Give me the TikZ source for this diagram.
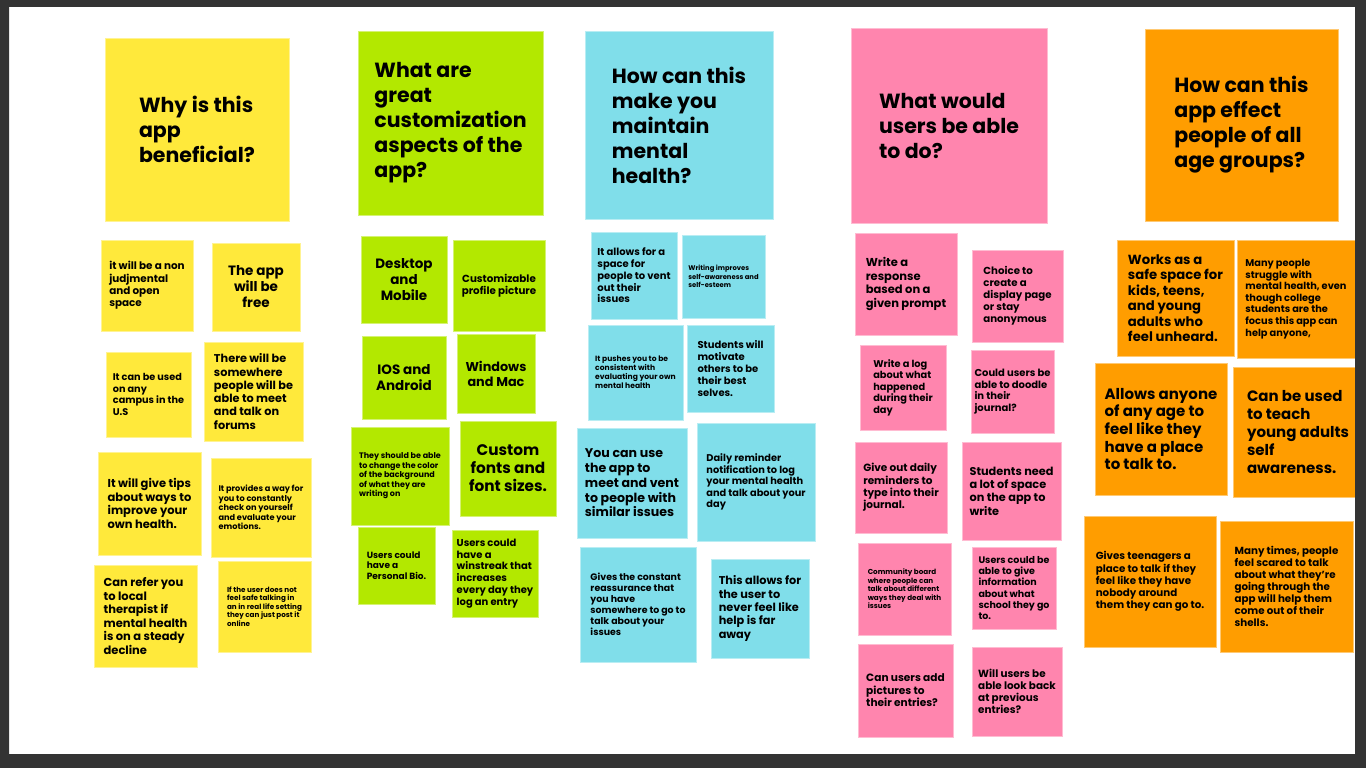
\documentclass[tikz,border=0pt]{standalone}
\usepackage{fontspec}
\setmainfont{Poppins}
\usepackage{xcolor}
\usetikzlibrary{positioning}

\definecolor{ylw}{HTML}{FFE93B}
\definecolor{grn}{HTML}{B3E800}
\definecolor{cyn}{HTML}{80DEEA}
\definecolor{pnk}{HTML}{FF85AE}
\definecolor{org}{HTML}{FF9D00}
\definecolor{frm}{HTML}{333333}

\begin{document}
\begin{tikzpicture}[x=1pt,y=-1pt,
    note/.style={rectangle,fill=#1,draw=#1!55!white,line width=0.7pt,inner sep=0pt,align=left,text=black},
    sz/.style 2 args={minimum width=#1pt,minimum height=#2pt},
    fs/.style 2 args={font=\fontsize{#1}{#2}\selectfont\bfseries},
    title/.style={fs={20.5}{25}}]
    \useasboundingbox (0,0) rectangle (1366,768);
    \fill[white] (0,0) rectangle (1366,768);

    % question headers
    \node[note=ylw,sz={184}{183},title] (q1) at (197,129.5) {Why is this\\app\\beneficial?};
    \node[note=grn,sz={185}{184},title] (q2) at (450.5,123) {What are\\great\\customization\\aspects of the\\app?};
    \node[note=cyn,sz={188}{188},title] (q3) at (679,125) {How can this\\make you\\maintain\\mental\\health?};
    \node[note=pnk,sz={196}{195},title] (q4) at (949,125.5) {What would\\users be able\\to do?};
    \node[note=org,sz={193}{192},title] (q5) at (1241.5,125) {How can this\\app effect\\people of all\\age groups?};

    % why is this app beneficial
    \node[note=ylw,sz={92}{91},fs={10.4}{12.3}] (y1) at (147,285.5) {it will be a non\\judjmental\\and open\\space};
    \node[note=ylw,sz={88}{88},fs={13.5}{16},align=center] (y2) at (256,287) {The app\\will be\\free};
    \node[note=ylw,sz={85}{85},fs={9.7}{11.5}] (y3) at (148.5,394.5) {It can be used\\on any\\campus in the\\U.S};
    \node[note=ylw,sz={99}{99},fs={11.3}{13.3}] (y4) at (253.5,391.5) {There will be\\somewhere\\people will be\\able to meet\\and talk on\\forums};
    \node[note=ylw,sz={103}{103},fs={11.5}{13.5}] (y5) at (149.5,503.5) {It will give tips\\about ways to\\improve your\\own health.};
    \node[note=ylw,sz={100}{99},fs={8.2}{9.6}] (y6) at (261,507.5) {It provides a way for\\you to constantly\\check on yourself\\and evaluate your\\emotions.};
    \node[note=ylw,sz={103}{102},fs={11.5}{13.5}] (y7) at (145.5,616) {Can refer you\\to local\\therapist if\\mental health\\is on a steady\\decline};
    \node[note=ylw,sz={93}{91},fs={7.2}{8.5}] (y8) at (264.5,606.5) {If the user does not\\feel safe talking in\\an in real life setting\\they can just post it\\online};

    % customization aspects
    \node[note=grn,sz={86}{87},fs={13.5}{16},align=center] (g1) at (404,279.5) {Desktop\\and\\Mobile};
    \node[note=grn,sz={92}{91},fs={10.3}{12.5},align=center] (g2) at (499,285.5) {Customizable\\profile picture};
    \node[note=grn,sz={84}{83},fs={13.5}{16},align=center] (g3) at (404,377.5) {IOS and\\Android};
    \node[note=grn,sz={78}{79},fs={12.8}{15},align=center] (g4) at (496,373.5) {Windows\\and Mac};
    \node[note=grn,sz={98}{98},fs={8}{9.5}] (g5) at (400,476) {They should be able\\to change the color\\of the background\\of what they are\\writing on};
    \node[note=grn,sz={96}{95},fs={15.3}{18},align=center] (g6) at (508,468.5) {Custom\\fonts and\\font sizes.};
    \node[note=grn,sz={77}{77},fs={9}{10.5}] (g7) at (396.5,565.5) {Users could\\have a\\Personal Bio.};
    \node[note=grn,sz={86}{87},fs={10}{11.7}] (g8) at (495,573.5) {Users could\\have a\\winstreak that\\increases\\every day they\\log an entry};

    % maintain mental health
    \node[note=cyn,sz={86}{87},fs={10}{11.8}] (c1) at (634,275.5) {It allows for a\\space for\\people to vent\\out their\\issues};
    \node[note=cyn,sz={83}{83},fs={6.8}{8.4}] (c2) at (723.5,276.5) {Writing improves\\self-awareness and\\self-esteem};
    \node[note=cyn,sz={95}{95},fs={7.6}{9}] (c3) at (635.5,372.5) {It pushes you to be\\consistent with\\evaluating your own\\mental health};
    \node[note=cyn,sz={87}{87},fs={10}{11.8}] (c4) at (730.5,368.5) {Students will\\motivate\\others to be\\their best\\selves.};
    \node[note=cyn,sz={110}{110},fs={12.6}{14.8}] (c5) at (632,483) {You can use\\the app to\\meet and vent\\to people with\\similar issues};
    \node[note=cyn,sz={118}{118},fs={9.8}{11.5}] (c6) at (756,482) {Daily reminder\\notification to log\\your mental health\\and talk about your\\day};
    \node[note=cyn,sz={116}{115},fs={9.4}{11}] (c7) at (638,604.5) {Gives the constant\\reassurance that\\you have\\somewhere to go to\\talk about your\\issues};
    \node[note=cyn,sz={98}{99},fs={11.3}{13.3}] (c8) at (760,608.5) {This allows for\\the user to\\never feel like\\help is far\\away};

    % what users can do
    \node[note=pnk,sz={102}{102},fs={11.5}{13.5}] (p1) at (906,284) {Write a\\response\\based on a\\given prompt};
    \node[note=pnk,sz={91}{92},fs={10.2}{12}] (p2) at (1017.5,296) {Choice to\\create a\\display page\\or stay\\anonymous};
    \node[note=pnk,sz={86}{85},fs={9.8}{11.5}] (p3) at (903,387.5) {Write a log\\about what\\happened\\during their\\day};
    \node[note=pnk,sz={83}{83},fs={10}{11.7}] (p4) at (1012.5,391.5) {Could users be\\able to doodle\\in their\\journal?};
    \node[note=pnk,sz={92}{91},fs={10.5}{12.3}] (p5) at (901,487.5) {Give out daily\\reminders to\\type into their\\journal.};
    \node[note=pnk,sz={99}{98},fs={11.3}{13.3}] (p6) at (1011.5,491) {Students need\\a lot of space\\on the app to\\write};
    \node[note=pnk,sz={93}{92},fs={7.2}{8.5}] (p7) at (904.5,589) {Community board\\where people can\\talk about different\\ways they deal with\\issues};
    \node[note=pnk,sz={84}{82},fs={9.5}{11.2}] (p8) at (1014,588) {Users could be\\able to give\\information\\about what\\school they go\\to.};
    \node[note=pnk,sz={95}{93},fs={10.6}{12.5}] (p9) at (905.5,690.5) {Can users add\\pictures to\\their entries?};
    \node[note=pnk,sz={90}{89},fs={10.4}{12.2}] (p10) at (1017,691.5) {Will users be\\able look back\\at previous\\entries?};

    % all age groups
    \node[note=org,sz={117}{116},fs={13.2}{15.5}] (o1) at (1175.5,298) {Works as a\\safe space for\\kids, teens,\\and young\\adults who\\feel unheard.};
    \node[note=org,sz={118}{118},fs={9.8}{11.6}] (o2) at (1296,299) {Many people\\struggle with\\mental health, even\\though college\\students are the\\focus this app can\\help anyone,};
    \node[note=org,sz={132}{132},fs={15}{17.7}] (o3) at (1161,429) {Allows anyone\\of any age to\\feel like they\\have a place\\to talk to.};
    \node[note=org,sz={130}{130},fs={15}{17.8}] (o4) at (1298,432) {Can be used\\to teach\\young adults\\self\\awareness.};
    \node[note=org,sz={132}{131},fs={10.3}{12.2}] (o5) at (1150,581.5) {Gives teenagers a\\place to talk if they\\feel like they have\\nobody around\\them they can go to.};
    \node[note=org,sz={133}{131},fs={10.3}{12}] (o6) at (1286.5,586.5) {Many times, people\\feel scared to talk\\about what they're\\going through the\\app will help them\\come out of their\\shells.};

    % screen frame
    \fill[frm,even odd rule] (0,0) rectangle (1366,768) (9,7) rectangle (1355,754);
\end{tikzpicture}
\end{document}
